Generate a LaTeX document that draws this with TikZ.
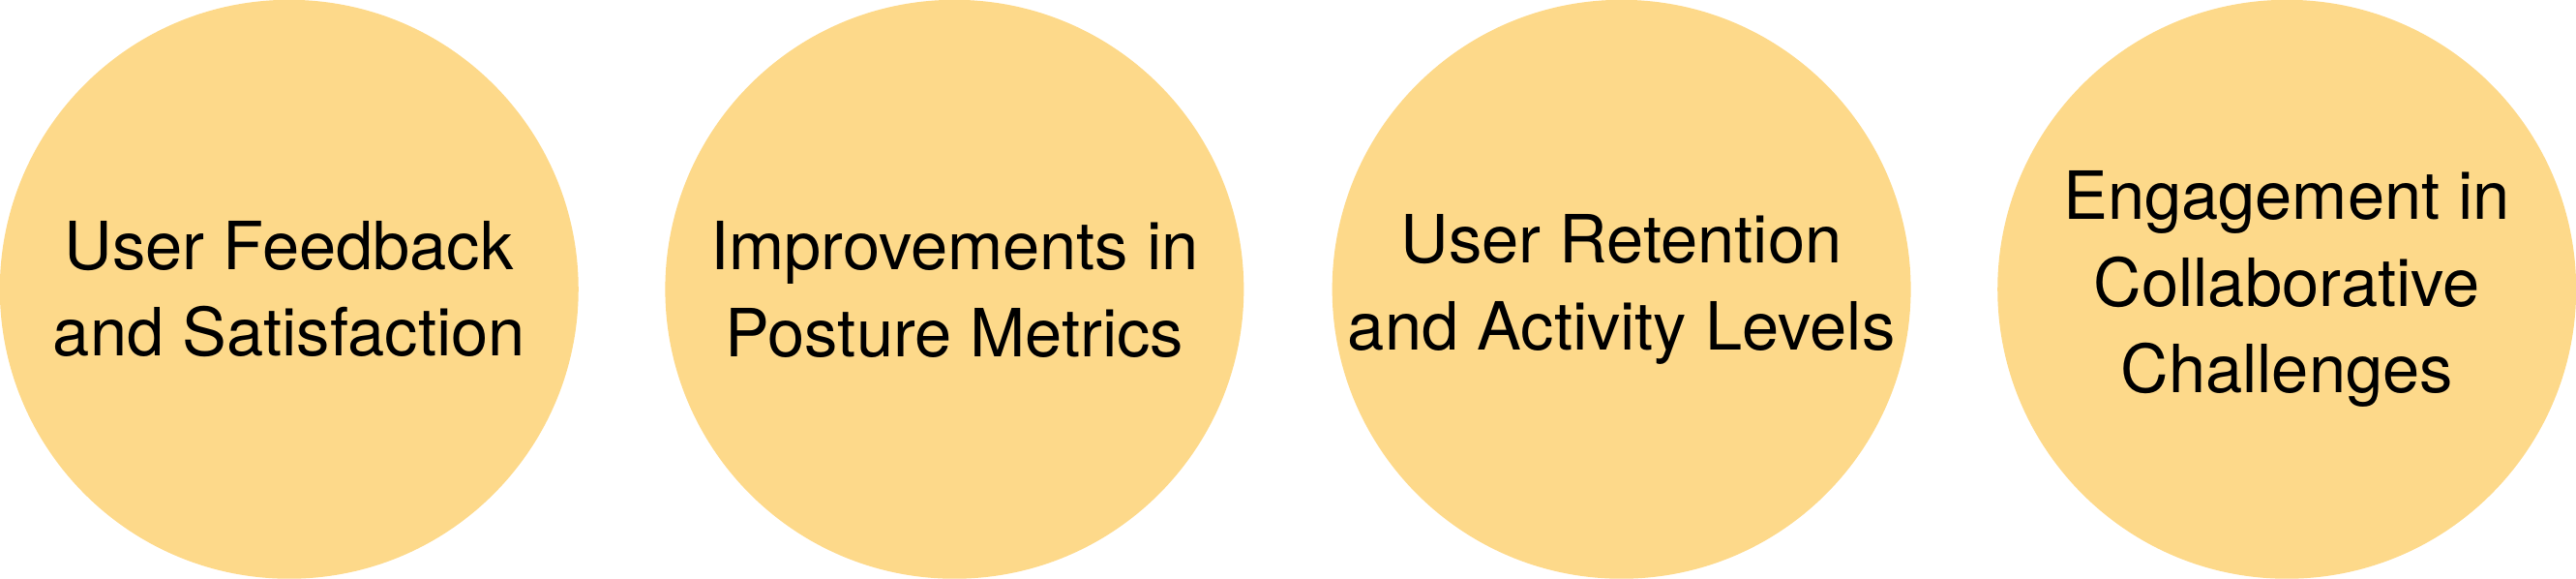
\documentclass[tikz,border=0pt]{standalone}
\usepackage{fontspec}
\setmainfont{TeX Gyre Heros}
\definecolor{circfill}{HTML}{FDD98A}
\begin{document}
\begin{tikzpicture}[x=0.01cm,y=0.01cm,
  bubble/.style={circle,fill=circfill,minimum size=3.52cm,inner sep=0pt,align=center,
    font=\fontsize{11.5}{15}\selectfont}]
\useasboundingbox (0,0) rectangle (1568,352);
\node[bubble] (a) at (176,176) {User Feedback\\and Satisfaction};
\node[bubble] (b) at (581,176) {Improvements in\\Posture Metrics};
\node[bubble] (c) at (987,176) {User Retention\\and Activity Levels};
\node[bubble] (d) at (1392,176) {Engagement in\\Collaborative\\Challenges};
\end{tikzpicture}
\end{document}
